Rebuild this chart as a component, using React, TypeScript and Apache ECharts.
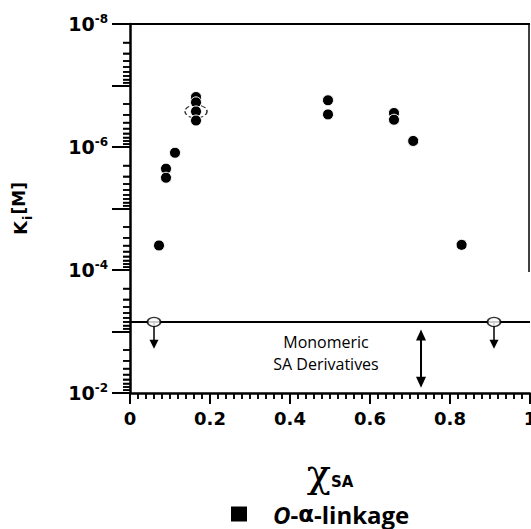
import React, { useEffect, useRef } from "react";
import * as echarts from "echarts";

// Filled points (O-α-linkage): mole fraction χSA and Ki [M]
const pointX = [0.0725, 0.09, 0.09, 0.1125, 0.165, 0.165, 0.165, 0.165, 0.495, 0.495, 0.66, 0.66, 0.708, 0.829];
const pointKi = [3.99e-5, 2.25e-6, 3.16e-6, 1.24e-6, 1.54e-7, 1.88e-7, 2.64e-7, 3.71e-7, 1.74e-7, 2.95e-7, 2.8e-7, 3.6e-7, 7.97e-7, 3.9e-5];

// dashed open circle around the cluster
const dashedX = [0.165];
const dashedKi = [2.64e-7];

// monomeric SA derivatives level and open circles with "greater than" arrows
const monomericKi = 7e-4;
const openX = [0.06, 0.91];
const openArrowEndKi = [1.9e-3, 1.9e-3];

// double arrow (monomeric range)
const rangeX = 0.7275;
const rangeKi = [9.3e-4, 8.2e-3];

const xTicks = [0, 0.2, 0.4, 0.6, 0.8, 1];
const yMin = 1e-8;
const yMax = 1e-2;
const yDecades = [-8, -7, -6, -5, -4, -3, -2];

export default function App() {
  const ref = useRef<HTMLDivElement>(null);
  useEffect(() => {
    if (!ref.current) return;
    const chart = echarts.init(ref.current, null, { renderer: "svg" });

    const arrowData = [
      ...openX.map((x, i) => [x, monomericKi, openArrowEndKi[i], 0]),
      [rangeX, rangeKi[0], rangeKi[1], 1],
    ];

    const head = (tip: number[], dir: number, hw: number, hl: number) => ({
      type: "polygon",
      shape: { points: [[tip[0], tip[1]], [tip[0] - hw, tip[1] - dir * hl], [tip[0] + hw, tip[1] - dir * hl]] },
      style: { fill: "#000" },
    });

    const baseGraphic: any[] = [
      { type: "line", shape: { x1: 529, y1: 24, x2: 529, y2: 272 }, style: { stroke: "#000", lineWidth: 1.5 } },
      {
        type: "text",
        x: 326,
        y: 331,
        style: {
          text: "Monomeric\nSA Derivatives",
          fontFamily: "Open Sans",
          fontSize: 16,
          lineHeight: 22,
          fill: "#000",
          align: "center",
          verticalAlign: "top",
        },
      },
    ];

    const option: any = {
      animation: false,
      grid: { left: 130, right: 1, top: 24, bottom: 136, outerBoundsMode: "none" },
      legend: {
        data: ["O-α-linkage"],
        left: 229,
        top: 502,
        padding: 0,
        icon: "rect",
        itemWidth: 18,
        itemHeight: 17,
        formatter: () => "{i|O}{n|-}{a|α}{n|-linkage}",
        textStyle: {
          rich: {
            i: { fontFamily: "Open Sans", fontWeight: "bold", fontStyle: "italic", fontSize: 24, lineHeight: 20, color: "#000", padding: [0, 0, 0, 20] },
            n: { fontFamily: "Open Sans", fontWeight: "bold", fontSize: 24, lineHeight: 20, color: "#000" },
            a: { fontFamily: "DejaVu Sans", fontWeight: "bold", fontSize: 23, lineHeight: 20, color: "#000" },
          },
        },
      },
      xAxis: {
        type: "value",
        min: 0,
        max: 1,
        interval: 0.2,
        name: "{c|χ}{s|SA}",
        nameLocation: "middle",
        nameGap: 60,
        nameTextStyle: {
          rich: {
            c: { fontFamily: "DejaVu Serif", fontSize: 40, color: "#000" },
            s: { fontFamily: "DejaVu Sans", fontWeight: "bold", fontSize: 15, color: "#000", padding: [18, 0, 0, 0] },
          },
        },
        axisLine: { show: true, lineStyle: { color: "#000", width: 2.5 } },
        axisTick: { show: true, length: 11, lineStyle: { color: "#000", width: 2 } },
        minorTick: { show: true, splitNumber: 10, length: 6, lineStyle: { color: "#000", width: 1.5 } },
        splitLine: { show: false },
        axisLabel: {
          margin: 16,
          fontFamily: "DejaVu Sans",
          fontWeight: "bold",
          fontSize: 18,
          color: "#000",
          formatter: (v: number) => (xTicks.includes(Math.round(v * 10) / 10) ? String(Math.round(v * 10) / 10) : ""),
        },
      },
      yAxis: {
        type: "log",
        logBase: 10,
        min: yMin,
        max: yMax,
        inverse: true,
        name: "{k|K}{s|i}{m|[M]}",
        nameLocation: "middle",
        nameRotate: 90,
        nameGap: 96,
        nameTextStyle: {
          rich: {
            k: { fontFamily: "DejaVu Sans", fontWeight: "bold", fontSize: 18, color: "#000" },
            s: { fontFamily: "DejaVu Sans", fontWeight: "bold", fontSize: 13, color: "#000", padding: [14, 1, 0, 1] },
            m: { fontFamily: "DejaVu Sans", fontWeight: "bold", fontSize: 17, color: "#000", padding: [0, 0, 4, 0] },
          },
        },
        axisLine: { show: true, lineStyle: { color: "#000", width: 2.5 } },
        axisTick: { show: true, length: 18, lineStyle: { color: "#000", width: 2 } },
        minorTick: { show: true, splitNumber: 9, length: 7, lineStyle: { color: "#000", width: 1.5 } },
        splitLine: { show: false },
        axisLabel: {
          margin: 22,
          formatter: (v: number) => {
            const e = Math.round(Math.log10(v));
            if (e % 2 !== 0) return "";
            return "{b|10}{s|" + e + "}";
          },
          rich: {
            b: { fontFamily: "DejaVu Sans", fontWeight: "bold", fontSize: 19, color: "#000", lineHeight: 22 },
            s: { fontFamily: "DejaVu Sans", fontWeight: "bold", fontSize: 12, color: "#000", padding: [0, 0, 10, 0] },
          },
        },
      },
      graphic: baseGraphic,
      series: [
        {
          type: "line",
          name: "frameTop",
          data: [[0, yMin], [1, yMin]],
          symbol: "none",
          lineStyle: { color: "#000", width: 2 },
          silent: true,
          z: 2,
        },
        {
          type: "line",
          name: "level",
          data: [[0, monomericKi], [1, monomericKi]],
          symbol: "none",
          lineStyle: { color: "#000", width: 2 },
          silent: true,
          z: 2,
        },
        {
          type: "custom",
          name: "arrows",
          clip: false,
          silent: true,
          encode: { x: 0, y: [1, 2] },
          data: arrowData,
          renderItem: (_p: any, api: any) => {
            const x = api.value(0);
            const p1 = api.coord([x, api.value(1)]);
            const p2 = api.coord([x, api.value(2)]);
            const dbl = api.value(3) === 1;
            const hw = dbl ? 5 : 4.5;
            const hl = dbl ? 11 : 9;
            const children: any[] = [
              {
                type: "line",
                shape: { x1: p1[0], y1: dbl ? p1[1] + hl - 1 : p1[1], x2: p2[0], y2: p2[1] - hl + 1 },
                style: { stroke: "#000", lineWidth: dbl ? 2 : 1.5 },
              },
              head(p2, 1, hw, hl),
            ];
            if (dbl) children.push(head(p1, -1, hw, hl));
            return { type: "group", children };
          },
          z: 3,
        },
        {
          type: "scatter",
          name: "open",
          data: openX.map((x) => [x, monomericKi]),
          symbol: "circle",
          symbolSize: [13, 9],
          itemStyle: { color: "#fff", borderColor: "#000", borderWidth: 1.5 },
          silent: true,
          z: 4,
        },
        {
          type: "scatter",
          name: "dashed",
          data: dashedX.map((x, i) => [x, dashedKi[i]]),
          symbol: "circle",
          symbolSize: [22, 13],
          itemStyle: { color: "rgba(0,0,0,0)", borderColor: "#000", borderWidth: 1.2, borderType: "dashed" },
          silent: true,
          z: 4,
        },
        {
          type: "scatter",
          name: "O-α-linkage",
          data: pointX.map((x, i) => [x, pointKi[i]]),
          symbol: "circle",
          symbolSize: 11,
          itemStyle: { color: "#000", borderColor: "#fff", borderWidth: 1, opacity: 1 },
          silent: true,
          z: 5,
        },
      ],
    };
    chart.setOption(option);

    // fallback minor ticks placed through the axes' own scales
    try {
      const g: any[] = [];
      for (let i = 0; i < yDecades.length - 1; i++) {
        for (let m = 2; m <= 9; m++) {
          const p = chart.convertToPixel({ gridIndex: 0 }, [0, m * Math.pow(10, yDecades[i])]) as any;
          if (p && isFinite(p[0]) && isFinite(p[1]))
            g.push({ type: "line", shape: { x1: p[0] - 7, y1: p[1], x2: p[0], y2: p[1] }, style: { stroke: "#000", lineWidth: 1.5 } });
        }
      }
      for (let k = 1; k < 50; k++) {
        if (k % 10 === 0) continue;
        const p = chart.convertToPixel({ gridIndex: 0 }, [k / 50, yMax]) as any;
        if (p && isFinite(p[0]) && isFinite(p[1]))
          g.push({ type: "line", shape: { x1: p[0], y1: p[1], x2: p[0], y2: p[1] + 6 }, style: { stroke: "#000", lineWidth: 1.5 } });
      }
      if (g.length) chart.setOption({ graphic: [...baseGraphic, ...g] });
    } catch (e) {
      // keep the built-in ticks
    }

    return () => chart.dispose();
  }, []);
  return <div ref={ref} style={{ position: "absolute", left: 0, top: 0, width: 531, height: 529 }} />;
}
